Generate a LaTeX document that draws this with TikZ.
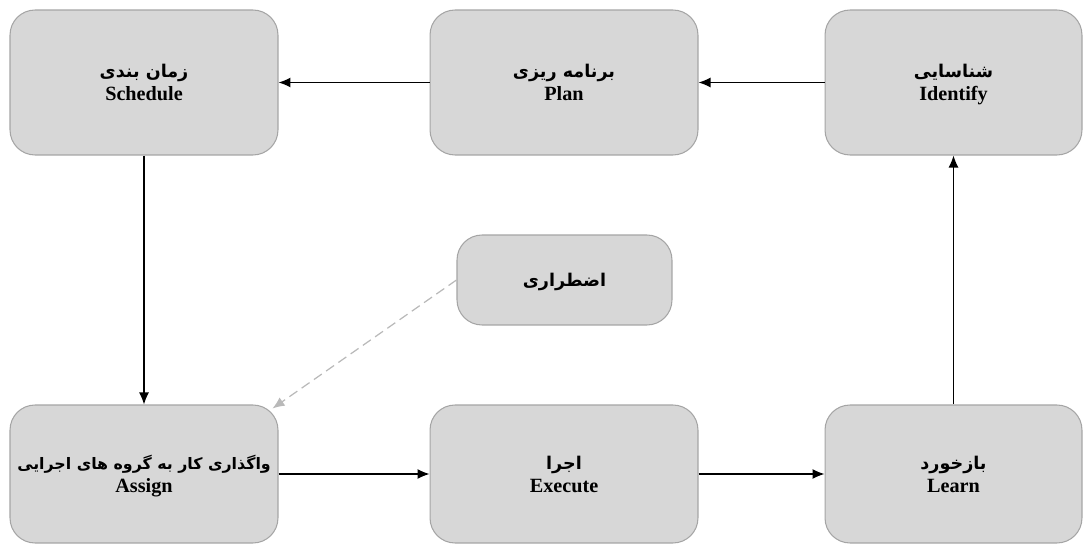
\documentclass[tikz,border=0pt]{standalone}
\usepackage{fontspec}
\setmainfont{Liberation Serif}
\newfontfamily\farsi[Script=Arabic]{DejaVu Sans}
\TeXXeTstate=1
\usepackage{xcolor}
\usetikzlibrary{arrows.meta}
\definecolor{boxfill}{HTML}{D7D7D7}
\definecolor{boxline}{HTML}{A5A5A5}
\tikzset{
  stage/.style={draw=boxline, fill=boxfill, rounded corners=0.5cm,
    minimum width=5.36cm, minimum height=2.9cm, align=center,
    inner xsep=2pt, text depth=-4pt,
    font=\fontsize{11.5}{13}\selectfont\bfseries, line width=0.6pt},
  flow/.style={-{Latex[length=2.4mm,width=2mm]}, line width=0.7pt}
}
\newcommand{\fa}[1]{{\farsi\fontsize{10}{13}\selectfont\beginR #1\endR}}

\begin{document}
\begin{tikzpicture}[x=0.02cm,y=-0.02cm]
\useasboundingbox (0,0) rectangle (1083,544);

\node[stage] (schedule) at (144,82.5) {\fa{زمان بندی}\\Schedule};
\node[stage] (plan) at (564,82.5) {\fa{برنامه ریزی}\\Plan};
\node[stage, minimum width=5.14cm] (identify) at (953.5,82.5) {\fa{شناسایی}\\Identify};

\node[stage, minimum width=4.3cm, minimum height=1.8cm, text depth=0pt] (emerg) at (564.5,280) {\fa{اضطراری}};

\node[stage, minimum height=2.76cm] (assign) at (144,474) {{\farsi\fontsize{9}{13}\selectfont\beginR واگذاری کار به گروه های اجرایی\endR}\\Assign};
\node[stage, minimum height=2.76cm] (execute) at (564,474) {\fa{اجرا}\\Execute};
\node[stage, minimum width=5.14cm, minimum height=2.76cm] (learn) at (953.5,474) {\fa{بازخورد}\\Learn};

\draw[flow] (identify) -- (plan);
\draw[flow] (plan) -- (schedule);
\draw[flow] (schedule) -- (assign);
\draw[flow] (assign) -- (execute);
\draw[flow] (execute) -- (learn);
\draw[flow] (learn) -- (identify);

\draw[flow, dashed, dash pattern=on 5.5pt off 3pt, gray!55] (emerg.west) -- ([shift={(-6,4)}]assign.north east);

\end{tikzpicture}
\end{document}
